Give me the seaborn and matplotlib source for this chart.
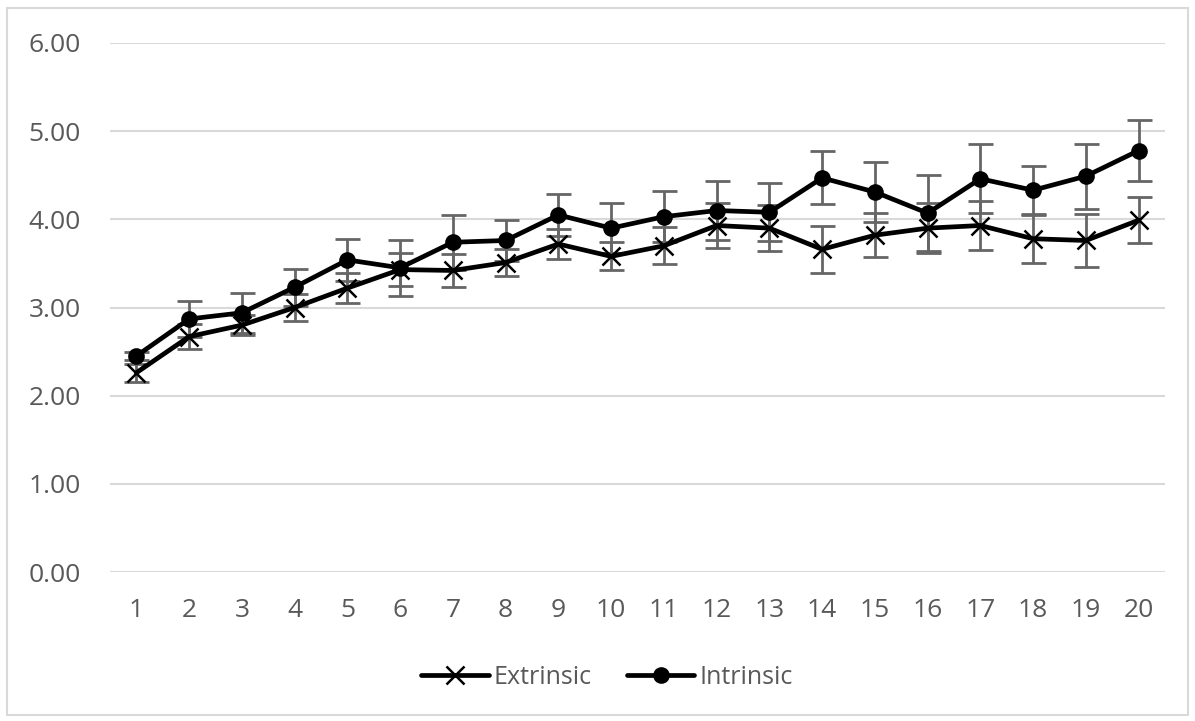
import numpy as np
import pandas as pd
import seaborn as sns
import matplotlib.pyplot as plt
from matplotlib.lines import Line2D
from matplotlib.patches import Rectangle

# values
days = list(range(1, 21))
extrinsic = [2.26, 2.67, 2.80, 3.00, 3.22, 3.43, 3.42, 3.51, 3.72, 3.58,
             3.70, 3.93, 3.90, 3.66, 3.82, 3.90, 3.93, 3.78, 3.76, 3.99]
extrinsic_err = [0.10, 0.14, 0.11, 0.15, 0.17, 0.19, 0.19, 0.15, 0.17, 0.16,
                 0.21, 0.25, 0.26, 0.27, 0.25, 0.28, 0.28, 0.28, 0.30, 0.26]
intrinsic = [2.45, 2.87, 2.94, 3.23, 3.54, 3.45, 3.74, 3.76, 4.05, 3.90,
             4.03, 4.10, 4.08, 4.47, 4.31, 4.07, 4.46, 4.33, 4.49, 4.78]
intrinsic_err = [0.05, 0.20, 0.23, 0.21, 0.24, 0.32, 0.31, 0.23, 0.24, 0.28,
                 0.29, 0.34, 0.33, 0.30, 0.34, 0.43, 0.39, 0.28, 0.37, 0.35]
y_ticks = [0, 1, 2, 3, 4, 5, 6]

df = pd.DataFrame({
    'day': days * 2,
    'score': extrinsic + intrinsic,
    'err': extrinsic_err + intrinsic_err,
    'series': ['Extrinsic'] * 20 + ['Intrinsic'] * 20,
})

sns.set_theme(style='white')
plt.rcParams['font.family'] = ['Open Sans', 'DejaVu Sans']
grey = '#595959'

fig = plt.figure(figsize=(11.95, 7.21), dpi=100)
ax = fig.add_axes([110 / 1195, 1 - 572 / 721, 1055 / 1195, 529 / 721])

# outer chart border
fig.patches.append(Rectangle((7 / 1195, 6 / 721), 1181 / 1195, 707 / 721,
                             transform=fig.transFigure, fill=False,
                             edgecolor='#d9d9d9', linewidth=1.5))

mstyle = {'Extrinsic': dict(marker='x', markersize=13, markeredgewidth=1.8),
          'Intrinsic': dict(marker='o', markersize=12, markeredgewidth=0)}
for name, sub in df.groupby('series'):
    ax.errorbar(sub['day'], sub['score'], yerr=sub['err'], fmt='none',
                ecolor='#666666', elinewidth=2, capsize=9, capthick=2, zorder=2)
    sns.lineplot(data=sub, x='day', y='score', ax=ax, color='black',
                 linewidth=3.4, markeredgecolor='black', zorder=3,
                 legend=False, **mstyle[name])

ax.set_xlim(0.5, 20.5)
ax.set_ylim(0, 6)
ax.set_xticks(days)
ax.set_yticks(y_ticks)
ax.set_yticklabels([f'{v:.2f}' for v in y_ticks])
ax.yaxis.grid(True, color='#d9d9d9', linewidth=1.5)
ax.xaxis.grid(False)
for s in ax.spines.values():
    s.set_visible(False)
ax.tick_params(axis='y', length=0, pad=21, labelsize=19, labelcolor=grey)
ax.tick_params(axis='x', length=0, pad=19, labelsize=19, labelcolor=grey)
ax.set_xlabel('')
ax.set_ylabel('')

handles = [Line2D([], [], color='black', lw=3.4, **mstyle['Extrinsic']),
           Line2D([], [], color='black', lw=3.4, **mstyle['Intrinsic'])]
leg = fig.legend(handles, ['Extrinsic', 'Intrinsic'], loc='center',
                 bbox_to_anchor=(0.508, 1 - 677 / 721), ncol=2, frameon=False,
                 fontsize=18, handlelength=2.7, handletextpad=0.2,
                 columnspacing=1.4)
for t in leg.get_texts():
    t.set_color(grey)

fig.savefig('out.png', dpi=100)
